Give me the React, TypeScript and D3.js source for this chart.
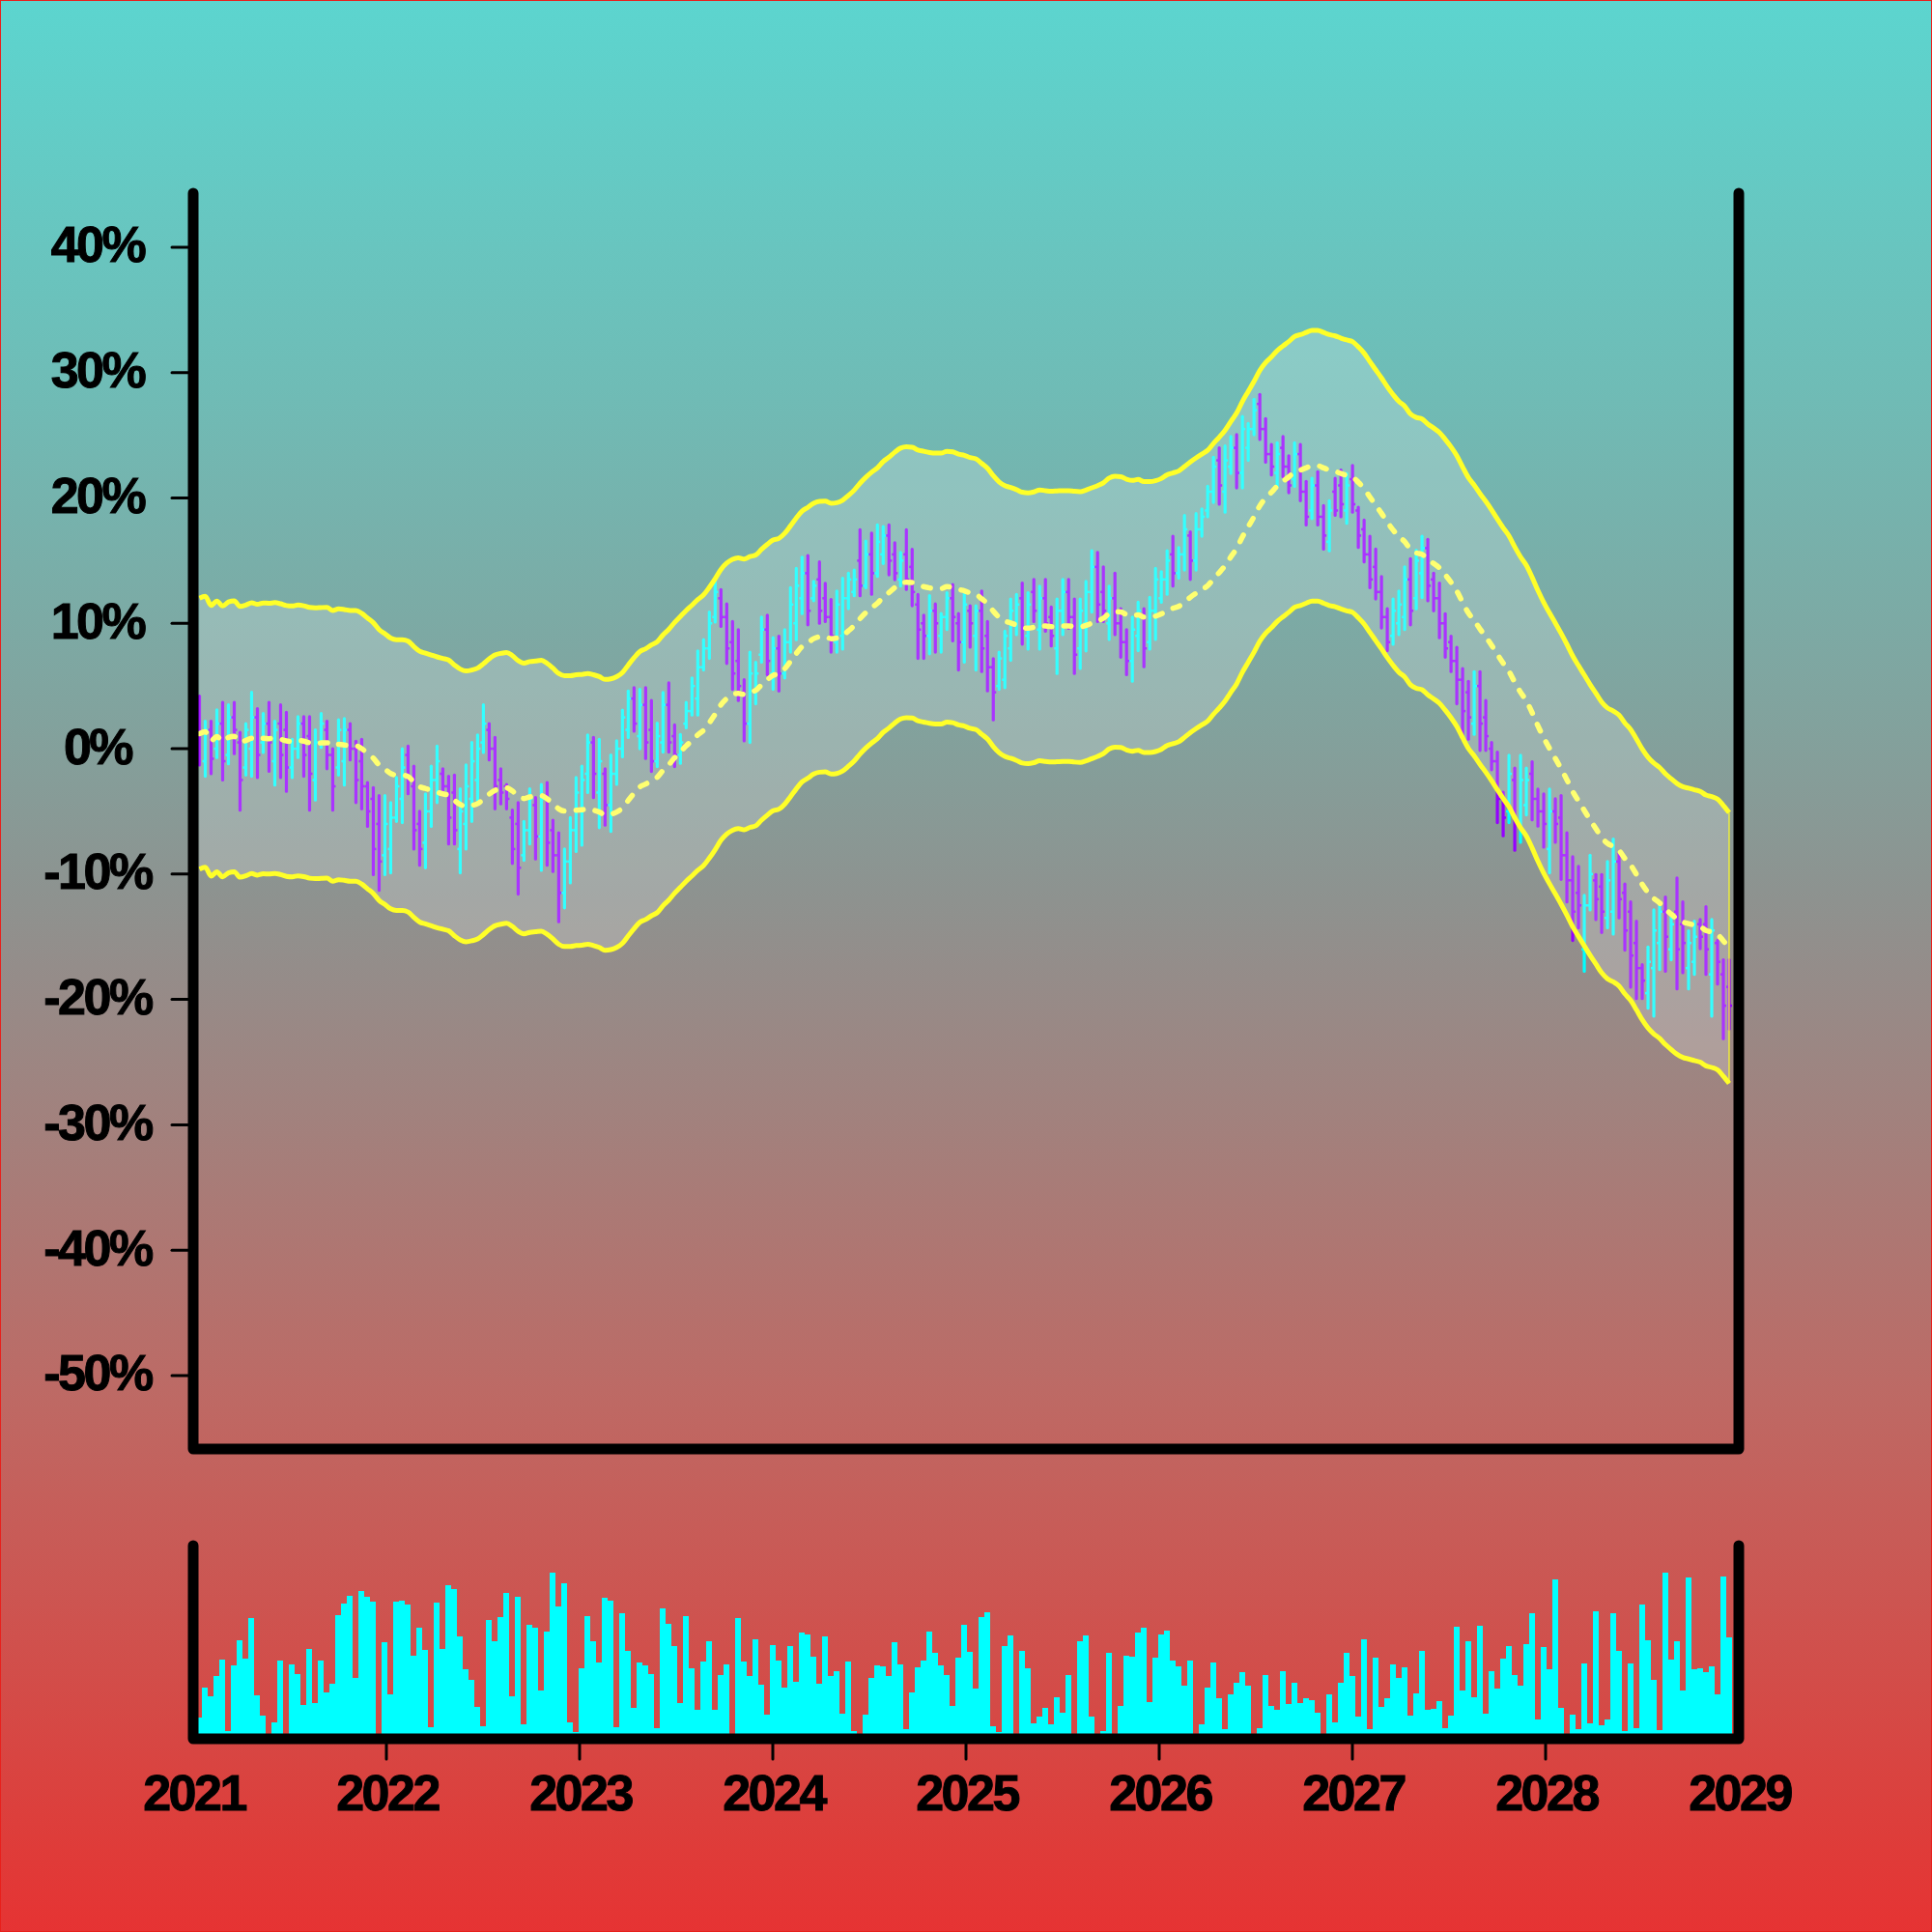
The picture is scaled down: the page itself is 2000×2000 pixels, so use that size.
import * as d3 from 'd3';

// OHLC values in percent, one bar per step
const opens = [
  2.8, -1.0, 1.5, 0.0, 2.0, -0.5, 2.5, 0.5, -1.5, 0.0,
  2.5, 0.5, 2.0, -1.0, 2.0, 1.5, -1.5, 0.0, 2.0, 1.0,
  -2.5, 0.5, 1.5, -0.5, -1.5, -1.0, 1.5, 0.0, -1.0, -3.0,
  -4.0, -6.0, -8.5, -8.0, -5.5, -4.0, -0.5, -3.0, -6.0, -7.5,
  -5.0, -2.5, -2.0, -3.0, -3.5, -8.0, -6.0, -4.0, -2.5, 0.5,
  1.5, 0.0, -2.5, -3.0, -5.5, -6.0, -8.5, -6.5, -4.5, -7.0,
  -4.0, -6.5, -8.5, -11.5, -9.0, -6.5, -5.0, -2.0, 0.5, -3.5,
  -2.0, -4.5, -2.0, 0.0, 1.5, 4.0, 1.0, 3.5, 1.5, -1.0,
  0.5, 3.5, 1.0, -0.5, 2.0, 3.0, 4.0, 6.5, 8.0, 10.5,
  12.0, 10.5, 8.5, 7.0, 4.5, 2.0, 4.5, 7.5, 9.5, 6.0,
  8.0, 6.0, 8.5, 10.0, 12.0, 14.0, 12.0, 13.5, 12.0, 10.5,
  8.5, 9.0, 12.0, 12.5, 15.0, 13.0, 15.5, 14.0, 15.5, 17.0,
  15.5, 13.5, 15.5, 14.5, 11.5, 10.0, 9.0, 11.0, 9.0, 10.5,
  12.0, 10.0, 8.5, 11.0, 9.0, 11.0, 9.0, 6.5, 5.0, 5.5,
  8.0, 10.0, 12.0, 9.0, 12.5, 9.5, 12.0, 10.5, 8.0, 11.0,
  12.5, 10.5, 8.0, 10.0, 12.5, 14.5, 12.5, 10.0, 12.0, 10.0,
  8.5, 7.0, 9.0, 10.5, 8.5, 11.0, 12.0, 13.5, 15.5, 14.0,
  15.5, 17.0, 15.0, 17.5, 19.0, 20.5, 23.0, 20.5, 22.5, 24.0,
  22.0, 24.0, 25.5, 27.5, 25.5, 23.5, 22.0, 24.0, 22.5, 21.5,
  23.5, 20.5, 19.0, 21.0, 18.5, 16.5, 20.5, 21.0, 19.0, 21.5,
  19.0, 17.5, 15.5, 14.5, 12.5, 10.5, 9.0, 10.0, 10.5, 13.5,
  12.0, 14.0, 16.0, 13.5, 12.0, 10.0, 8.5, 7.0, 5.5, 4.5,
  2.0, 5.0, 2.5, 0.0, -1.0, -4.0, -5.0, -2.5, -6.0, -4.5,
  -2.0, -4.0, -5.0, -8.0, -5.0, -5.5, -8.5, -10.5, -11.5, -16.0,
  -12.5, -10.5, -11.0, -13.5, -13.0, -9.0, -11.5, -13.0, -15.5, -17.5,
  -19.5, -17.5, -15.5, -13.0, -16.0, -13.0, -14.0, -17.5, -17.0, -14.0,
  -14.0, -18.0, -15.5, -18.0, -19.0,
];

const highs = [
  4.2, 2.2, 2.2, 3.1, 3.7, 3.5, 3.7, 1.3, 2.0, 4.5,
  3.2, 2.8, 3.7, 2.2, 3.5, 2.9, 0.75, 2.55, 2.55, 2.55,
  1.5, 2.8, 2.2, 0.0, 2.3, 2.4, 2.0, 0.6, 0.75, -2.7,
  -3.1, -3.75, -3.75, -4.3, -2.3, 0.0, 0.2, -1.4, -5.0, -3.6,
  -1.4, 0.2, -1.6, -2.2, -2.1, -3.2, -1.3, 0.5, 1.1, 3.5,
  2.0, 0.9, -1.6, -2.85, -4.9, -4.3, -5.8, -3.2, -3.9, -2.85,
  -2.7, -5.7, -6.7, -8.0, -5.5, -2.3, -1.4, 1.1, 0.9, 0.75,
  -1.6, -0.5, 0.63, 3.07, 4.6, 4.87, 4.74, 4.87, 3.84, 2.04,
  4.48, 5.25, 1.9, 1.14, 3.7, 5.64, 7.8, 8.7, 10.9, 13.5,
  12.7, 11.55, 10.14, 9.5, 5.5, 7.7, 6.9, 10.5, 10.65, 8.85,
  8.98, 9.5, 12.84, 14.38, 15.28, 15.4, 13.35, 14.9, 13.2, 11.9,
  12.58, 13.6, 14.0, 14.25, 17.46, 16.56, 17.2, 17.85, 17.72, 17.85,
  16.43, 15.66, 17.46, 15.9, 12.3, 10.65, 12.2, 11.55, 10.78, 12.45,
  13.1, 10.78, 12.45, 11.4, 11.4, 12.58, 10.14, 7.18, 7.7, 9.37,
  11.94, 12.3, 13.22, 12.45, 13.5, 12.97, 13.5, 11.3, 11.94, 13.5,
  13.5, 11.94, 11.94, 13.35, 15.8, 15.66, 14.5, 12.97, 14.0, 11.17,
  9.5, 10.5, 11.68, 11.17, 12.07, 14.38, 14.12, 15.79, 16.95, 16.05,
  18.6, 17.3, 18.75, 19.13, 20.93, 23.25, 24.0, 24.15, 24.9, 25.05,
  26.5, 25.94, 27.87, 28.26, 26.33, 24.27, 24.4, 24.9, 23.37, 24.4,
  24.27, 21.32, 21.57, 22.09, 19.39, 19.78, 21.57, 22.22, 21.96, 22.6,
  19.26, 18.23, 16.95, 15.92, 13.74, 11.17, 11.94, 12.58, 14.5, 15.15,
  15.84, 16.94, 16.7, 14.0, 13.22, 10.77, 8.98, 8.08, 6.4, 5.38,
  6.15, 6.15, 3.84, 0.5, -0.27, -3.48, -0.53, -1.55, -0.53, -1.55,
  -1.04, -3.23, -3.61, -3.23, -4.0, -3.74, -6.7, -8.62, -9.39, -11.7,
  -8.49, -10.04, -10.04, -9.0, -7.2, -8.36, -10.8, -12.22, -13.76, -17.23,
  -15.82, -12.86, -12.22, -11.83, -13.12, -10.3, -12.22, -14.53, -13.76, -13.63,
  -12.6, -13.63, -15.3, -16.84, -16.84,
];

const lows = [
  -1.3, -2.2, -2.0, -0.7, -2.5, -1.2, -0.4, -4.9, -2.1, -2.2,
  -2.3, -0.3, -1.8, -2.9, -2.3, -3.4, -2.3, -0.7, -2.2, -4.9,
  -4.1, 0.1, -1.6, -4.9, -2.1, -2.9, -0.9, -4.3, -4.8, -6.2,
  -10.05, -11.3, -10.05, -9.9, -5.8, -5.9, -3.6, -8.0, -9.3, -9.5,
  -6.2, -4.3, -3.6, -7.6, -7.6, -9.9, -8.0, -5.8, -4.1, -0.3,
  -0.9, -4.8, -4.4, -4.8, -9.15, -11.6, -8.9, -7.6, -8.8, -9.7,
  -9.3, -9.8, -13.8, -12.7, -10.7, -8.2, -7.7, -3.5, -3.9, -6.3,
  -6.1, -6.6, -2.84, -0.65, 0.89, 1.4, 0.0, -0.78, -1.81, -1.43,
  -0.27, -0.27, -1.43, -1.17, 1.66, 2.69, 2.69, 6.28, 7.2, 10.1,
  9.75, 6.8, 4.74, 3.84, 0.63, 0.5, 3.58, 6.9, 5.9, 4.74,
  4.6, 5.64, 7.7, 8.7, 10.78, 9.88, 11.81, 10.0, 10.14, 7.7,
  7.7, 7.95, 11.17, 12.2, 12.2, 12.84, 12.32, 13.74, 14.77, 13.87,
  13.48, 12.97, 12.7, 11.4, 7.2, 7.2, 7.57, 7.7, 7.7, 9.5,
  8.6, 6.28, 6.9, 8.1, 6.28, 6.15, 4.61, 2.3, 4.74, 4.87,
  7.05, 9.1, 8.34, 7.95, 10.14, 7.95, 9.37, 8.2, 6.0, 9.1,
  9.6, 6.0, 6.4, 7.8, 10.9, 10.14, 10.14, 8.72, 9.1, 7.3,
  5.9, 5.38, 7.82, 6.54, 7.95, 8.72, 11.68, 12.32, 12.97, 13.6,
  14.25, 13.5, 14.25, 16.95, 18.5, 19.65, 19.5, 18.87, 21.96, 20.8,
  20.8, 23.0, 25.04, 24.66, 22.86, 21.83, 20.93, 21.7, 20.42, 20.93,
  19.78, 17.85, 18.36, 17.85, 15.92, 15.79, 18.62, 18.5, 17.98, 18.87,
  16.05, 14.9, 12.84, 11.94, 9.63, 7.82, 8.33, 9.1, 9.5, 9.88,
  11.16, 12.06, 11.8, 11.0, 8.85, 7.3, 6.15, 3.58, 0.76, 0.76,
  1.14, -0.14, -0.14, -1.68, -5.9, -6.95, -5.9, -8.1, -7.47, -5.28,
  -5.67, -6.18, -7.85, -9.9, -7.47, -10.42, -12.22, -15.3, -14.28, -17.75,
  -12.86, -13.63, -14.66, -14.28, -14.79, -13.5, -16.07, -19.03, -19.93, -19.93,
  -20.7, -21.34, -17.62, -17.75, -16.84, -19.16, -17.87, -19.16, -18.0, -15.95,
  -18.0, -21.34, -18.77, -23.14, -22.37,
];

const closes = [
  1.2, 1.5, -0.8, 2.0, -1.0, 2.5, 1.5, -2.5, 1.5, 2.5,
  -0.5, 2.0, 0.5, 1.5, -0.5, -1.5, 0.0, 2.0, -0.5, -2.0,
  0.5, 2.0, -0.5, -3.0, 1.5, 1.5, 0.0, -2.5, -3.0, -5.0,
  -8.0, -9.0, -6.0, -5.5, -3.0, -1.5, -2.5, -6.5, -8.0, -5.0,
  -2.5, -1.0, -3.0, -5.5, -6.5, -5.0, -3.0, -1.0, 0.0, 2.0,
  0.0, -3.0, -3.5, -4.0, -8.0, -9.5, -6.5, -4.0, -7.0, -4.0,
  -7.5, -8.5, -11.5, -9.0, -6.5, -3.5, -2.5, 0.5, -2.0, -1.0,
  -4.5, -2.0, 0.0, 2.5, 4.0, 2.0, 3.5, 0.5, -1.0, 1.0,
  3.5, 0.5, -0.5, 0.5, 3.0, 5.0, 6.5, 8.0, 10.0, 12.5,
  10.5, 8.0, 6.0, 5.0, 2.0, 6.0, 6.0, 9.5, 7.0, 8.0,
  6.0, 8.5, 11.5, 13.0, 14.0, 11.0, 13.0, 11.0, 10.5, 9.0,
  11.5, 12.0, 13.5, 13.5, 13.0, 15.5, 14.0, 16.5, 17.0, 15.0,
  14.0, 15.0, 13.5, 12.5, 9.5, 9.0, 11.0, 10.0, 10.5, 12.0,
  10.5, 8.5, 11.5, 10.0, 11.0, 8.0, 6.5, 4.5, 7.2, 9.0,
  11.0, 11.5, 9.5, 11.5, 11.0, 12.0, 10.0, 9.0, 11.0, 12.5,
  10.5, 7.5, 11.0, 12.5, 14.5, 11.5, 11.0, 12.0, 10.0, 8.5,
  7.0, 9.5, 11.0, 8.0, 11.0, 13.5, 13.5, 15.0, 14.0, 15.5,
  17.5, 15.0, 17.5, 18.5, 20.5, 22.5, 21.0, 23.0, 24.0, 22.0,
  25.5, 25.5, 27.0, 25.5, 23.5, 22.5, 23.5, 22.5, 21.0, 23.5,
  20.5, 18.5, 21.0, 18.5, 17.0, 19.0, 19.0, 19.5, 21.0, 19.5,
  17.0, 15.5, 13.5, 12.5, 10.5, 8.5, 11.0, 11.5, 13.5, 11.0,
  15.0, 16.0, 13.0, 12.0, 10.0, 8.0, 7.0, 5.5, 3.0, 2.5,
  5.0, 2.0, 1.0, -1.0, -4.0, -5.5, -2.0, -6.0, -2.5, -2.5,
  -4.0, -5.0, -6.0, -5.0, -6.0, -8.5, -10.5, -13.0, -12.5, -12.5,
  -10.0, -12.0, -13.0, -10.5, -9.0, -12.0, -14.5, -16.5, -17.5, -18.5,
  -17.0, -14.5, -13.0, -15.0, -14.0, -16.0, -15.5, -15.5, -15.0, -15.0,
  -16.0, -14.5, -17.0, -20.5, -20.5,
];

// volume, as percent of the lower panel height
const volumes = [
  10.8, 26.3, 22.2, 32.5, 40.8, 4.2, 38, 50.8, 41.3, 62.3,
  22.3, 12, 1, 8.5, 40.3, 1, 38.7, 33.7, 17.5, 46.3,
  18.3, 40.3, 24.2, 28.3, 64, 70.2, 74.2, 31.3, 76.7, 73.3,
  70.8, 1, 50, 22.8, 70.8, 71.3, 69.7, 42.8, 57.5, 46.2,
  5.8, 70.3, 46.7, 79.5, 77.5, 52.8, 36.2, 30.3, 16.7, 6.3,
  61.7, 50.7, 62.8, 75.5, 22.2, 73.7, 7.5, 58.8, 57.3, 25,
  55.5, 85.8, 68.3, 80.3, 8.3, 3.7, 36.7, 63.3, 50.3, 39.5,
  72.8, 71.3, 6.2, 65, 45.7, 15.8, 39.7, 38, 33.5, 5.7,
  67.5, 59.5, 48, 18.7, 63.3, 36.7, 15, 40, 50.3, 15,
  33, 38.3, 1, 62.5, 40, 32.5, 51.3, 28, 12.5, 48.7,
  40.3, 26.5, 48, 29.5, 55, 54, 42.3, 28.5, 52.8, 32.5,
  35, 13, 40, 4.2, 1, 12.5, 31.7, 38.2, 37.5, 32.5,
  50, 38.3, 5, 24, 37, 40.5, 55.7, 44.7, 38, 33.2,
  17, 41.8, 58.8, 45, 26.2, 63, 65.7, 6.5, 3.7, 48,
  53.3, 1, 45.5, 36.5, 8.2, 11.3, 15.8, 7.7, 21.3, 13.5,
  33.2, 1, 50.5, 53.5, 11.5, 1, 4.2, 44.5, 1, 17,
  43, 42.7, 54.8, 57.3, 19, 42, 54, 55.8, 40.7, 37.5,
  27.7, 40.5, 1, 7.5, 26.5, 39.5, 20.8, 5, 23, 29,
  34.3, 27.7, 1, 5.3, 33, 17, 15, 34.8, 18.2, 28.8,
  18.3, 21, 20, 13.5, 1, 22.8, 8.3, 29.2, 44.3, 32.5,
  11.3, 51.3, 5, 42, 16.7, 20.8, 38.7, 31.7, 36.8, 12,
  23.7, 45.5, 15, 15.5, 19.3, 5.5, 12.2, 57.8, 25.2, 50.7,
  21.7, 58.3, 12.8, 35, 26, 41.5, 48.2, 33, 27.5, 49,
  64.8, 10.2, 47.7, 36, 82.6, 16.2, 0.7, 12.7, 5.2, 38.9,
  7.9, 66.2, 6.9, 9.9, 64.8, 45.5, 3.9, 39, 5.3, 69.4,
  50.8, 30.6, 4.3, 86, 41, 50.4, 24.8, 83.4, 36, 36.4,
  34.6, 37.3, 22.9, 84.1, 52.7,
];

const yTicks = [40, 30, 20, 10, 0, -10, -20, -30, -40, -50];
const years = [2021, 2022, 2023, 2024, 2025, 2026, 2027, 2028, 2029];

const maWindow = 20;
const envelope = 10.8;

const upColor = '#00ffff';
const downColor = '#9500ff';
const bandColor = '#ffff28';

const labelStyle = {
  fontFamily: '"Liberation Sans", Arial, Helvetica, sans-serif',
  fontWeight: 700,
  fontSize: 52,
  letterSpacing: -2.5,
};

export default function App() {
  const n = closes.length;

  const x = d3.scaleBand<number>().domain(d3.range(n)).range([203.5, 1793]);
  const cx = (i: number) => (x(i) ?? 0) + x.bandwidth() / 2;
  const xYear = d3.scaleLinear().domain([2021, 2029]).range([200, 1800]);
  const y = d3.scaleLinear().domain([-55.86, 44.31]).range([1500, 200]);
  const yVol = d3.scaleLinear().domain([0, 100]).range([1800, 1600]);

  // trailing moving average of the closes, with an envelope around it
  const ma = closes.map(
    (_, i) => d3.mean(closes.slice(Math.max(0, i - maWindow + 1), i + 1)) as number
  );
  const upper = ma.map(m => m + envelope);
  const lower = ma.map(m => m - envelope);

  const line = d3
    .line<number>()
    .x((_, i) => cx(i))
    .y(d => y(d))
    .curve(d3.curveMonotoneX);
  const area = d3
    .area<number>()
    .x((_, i) => cx(i))
    .y0(d => y(d - envelope))
    .y1(d => y(d + envelope))
    .curve(d3.curveMonotoneX);

  const lastX = cx(n - 1);

  return (
    <svg
      width={2000}
      height={2000}
      style={{ position: 'absolute', left: 0, top: 0, display: 'block' }}
    >
      <defs>
        <linearGradient id="bg" x1="0" y1="0" x2="0" y2="1">
          <stop offset="0" stopColor="rgb(92,213,207)" />
          <stop offset="0.2" stopColor="rgb(111,188,182)" />
          <stop offset="0.375" stopColor="rgb(130,162,157)" />
          <stop offset="0.46" stopColor="rgb(141,147,144)" />
          <stop offset="0.5" stopColor="rgb(148,141,138)" />
          <stop offset="0.575" stopColor="rgb(161,130,126)" />
          <stop offset="0.725" stopColor="rgb(190,105,100)" />
          <stop offset="0.95" stopColor="rgb(222,61,58)" />
          <stop offset="1" stopColor="rgb(230,51,51)" />
        </linearGradient>
      </defs>

      <rect x={0} y={0} width={2000} height={2000} fill="url(#bg)" />
      <rect x={0.5} y={0.5} width={1999} height={1999} fill="none" stroke="#e8201c" strokeWidth={1} />

      {/* OHLC bars */}
      <g>
        {closes.map((c, i) => {
          const col = c >= opens[i] ? upColor : downColor;
          const px = cx(i);
          return (
            <g key={i} stroke={col}>
              <line x1={px} x2={px} y1={y(highs[i])} y2={y(lows[i])} strokeWidth={3.2} strokeLinecap="round" />
              <line x1={px - 3} x2={px} y1={y(opens[i])} y2={y(opens[i])} strokeWidth={2.5} />
              <line x1={px} x2={px + 3} y1={y(c)} y2={y(c)} strokeWidth={2.5} />
            </g>
          );
        })}
      </g>

      {/* envelope */}
      <path d={area(ma) ?? ''} fill="#ffffff" fillOpacity={0.2} />
      <line
        x1={lastX}
        x2={lastX}
        y1={y(upper[n - 1])}
        y2={y(lower[n - 1])}
        stroke={bandColor}
        strokeWidth={1.2}
      />
      <path d={line(upper) ?? ''} fill="none" stroke={bandColor} strokeWidth={5} strokeLinejoin="round" />
      <path d={line(lower) ?? ''} fill="none" stroke={bandColor} strokeWidth={5} strokeLinejoin="round" />
      <path
        d={line(ma) ?? ''}
        fill="none"
        stroke="#ffff70"
        strokeWidth={5.5}
        strokeDasharray="7.5,12.5"
        strokeLinecap="round"
      />

      {/* main panel axes */}
      <path d="M200,200V1500H1800V200" fill="none" stroke="#000" strokeWidth={11} strokeLinecap="round" strokeLinejoin="round" />
      {yTicks.map(t => (
        <g key={t}>
          <line x1={178} x2={200} y1={y(t)} y2={y(t)} stroke="#000" strokeWidth={3} strokeLinecap="round" />
          <text x={101} y={y(t) + 15.5} textAnchor="middle" stroke="#000" strokeWidth={1} style={labelStyle}>
            {t}%
          </text>
        </g>
      ))}

      {/* volume */}
      <g shapeRendering="crispEdges">
        {volumes.map((v, i) => (
          <rect
            key={i}
            x={x(i)}
            y={yVol(v)}
            width={x.bandwidth()}
            height={1800 - yVol(v)}
            fill={upColor}
          />
        ))}
      </g>
      <path d="M200,1600V1800H1800V1600" fill="none" stroke="#000" strokeWidth={11} strokeLinecap="round" strokeLinejoin="round" />
      {years.map(yr => (
        <g key={yr}>
          {yr > 2021 && yr < 2029 && (
            <line x1={xYear(yr)} x2={xYear(yr)} y1={1800} y2={1821} stroke="#000" strokeWidth={3} strokeLinecap="round" />
          )}
          <text x={xYear(yr) + 1} y={1874} textAnchor="middle" stroke="#000" strokeWidth={1} style={labelStyle}>
            {yr}
          </text>
        </g>
      ))}
    </svg>
  );
}
